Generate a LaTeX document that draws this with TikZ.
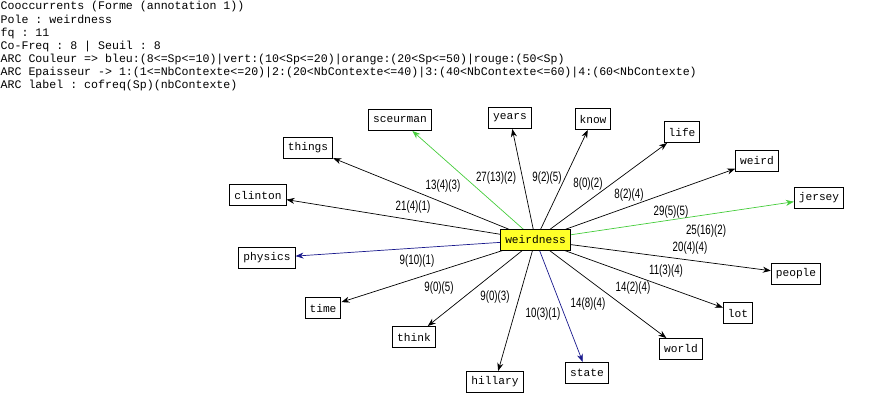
\documentclass[tikz,border=0pt]{standalone}
\usepackage{fontspec}
\setmonofont{Liberation Mono}
\newfontfamily\lblfont[FakeStretch=0.72]{Liberation Sans}
\usetikzlibrary{arrows.meta}
\definecolor{grn}{RGB}{70,205,60}
\definecolor{blu}{RGB}{25,25,140}
\definecolor{ylw}{RGB}{255,255,40}
\tikzset{
  hdr/.style={anchor=west, inner sep=0pt, font=\ttfamily\fontsize{11.6}{13}\selectfont, text=black},
  word/.style={draw=black, line width=1pt, fill=white, inner xsep=4.5pt, inner ysep=0pt, minimum height=21pt, font=\ttfamily\fontsize{11.2}{13}\selectfont},
  pole/.style={word, fill=ylw},
  arc/.style={-{Stealth[length=8pt,width=6pt]}, line width=0.7pt, draw=black},
  greenarc/.style={arc, draw=grn},
  bluearc/.style={arc, draw=blu},
  lbl/.style={inner sep=0pt, font=\lblfont\fontsize{13.5}{14}\selectfont}
}
\begin{document}
\begin{tikzpicture}[x=1pt,y=-1pt]
\useasboundingbox (0,0) rectangle (870,402);
% header
\node[hdr] (h1) at (0.5,6) {Cooccurrents (Forme (annotation 1))};
\node[hdr] (h2) at (0.5,19) {Pole : weirdness};
\node[hdr] (h3) at (0.5,33) {fq : 11};
\node[hdr] (h4) at (0.5,46) {Co-Freq : 8 | Seuil : 8};
\node[hdr] (h5) at (0.5,59) {ARC Couleur => bleu:(8<=Sp<=10)|vert:(10<Sp<=20)|orange:(20<Sp<=50)|rouge:(50<Sp)};
\node[hdr] (h6) at (0.5,72) {ARC Epaisseur -> 1:(1<=NbContexte<=20)|2:(20<NbContexte<=40)|3:(40<NbContexte<=60)|4:(60<NbContexte)};
\node[hdr] (h7) at (0.5,85) {ARC label : cofreq(Sp)(nbContexte)};
% nodes
\node[word] (sceurman) at (400,120) {sceurman};
\node[word] (years) at (510,118) {years};
\node[word] (things) at (308,148) {things};
\node[word] (clinton) at (258,195) {clinton};
\node[word] (physics) at (267,258) {physics};
\node[word] (know) at (593,119) {know};
\node[word] (life) at (682,132) {life};
\node[word] (weird) at (757,161) {weird};
\node[word] (jersey) at (819,198) {jersey};
\node[word] (people) at (796,274) {people};
\node[word] (time) at (323,308) {time};
\node[word] (think) at (414,337) {think};
\node[word] (hillary) at (495,382) {hillary};
\node[word] (state) at (587,373) {state};
\node[word] (world) at (681,349) {world};
\node[word] (lot) at (738,313) {lot};
\coordinate (c) at (535.5,240);
% arcs
\draw[greenarc] (c) -- (sceurman);
\draw[arc] (c) -- (years);
\draw[arc] (c) -- (things);
\draw[arc] (c) -- (clinton);
\draw[bluearc] (c) -- (physics);
\draw[arc] (c) -- (know);
\draw[arc] (c) -- (life);
\draw[arc] (c) -- (weird);
\draw[greenarc] (c) -- (jersey);
\draw[arc] (c) -- (people);
\draw[arc] (c) -- (time);
\draw[arc] (c) -- (think);
\draw[arc] (c) -- (hillary);
\draw[bluearc] (c) -- (state);
\draw[arc] (c) -- (world);
\draw[arc] (c) -- (lot);
\node[pole] (weirdness) at (c) {weirdness};
% labels
\node[lbl] (l1) at (496,178) {27(13)(2)};
\node[lbl] (l2) at (547,178) {9(2)(5)};
\node[lbl] (l3) at (443,186) {13(4)(3)};
\node[lbl] (l4) at (413,207) {21(4)(1)};
\node[lbl] (l5) at (417,261) {9(10)(1)};
\node[lbl] (l6) at (588,184) {8(0)(2)};
\node[lbl] (l7) at (629,195) {8(2)(4)};
\node[lbl] (l8) at (671,212) {29(5)(5)};
\node[lbl] (l9) at (706,231) {25(16)(2)};
\node[lbl] (l10) at (690,248) {20(4)(4)};
\node[lbl] (l11) at (666,271) {11(3)(4)};
\node[lbl] (l12) at (633,288) {14(2)(4)};
\node[lbl] (l13) at (588,304) {14(8)(4)};
\node[lbl] (l14) at (543,314) {10(3)(1)};
\node[lbl] (l15) at (495,297) {9(0)(3)};
\node[lbl] (l16) at (439,288) {9(0)(5)};
\end{tikzpicture}
\end{document}
